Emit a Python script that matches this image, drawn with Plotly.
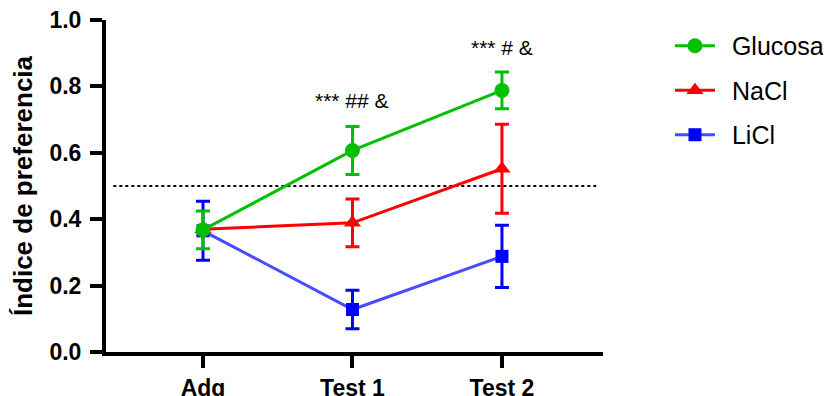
import plotly.graph_objects as go

categories = ["Adq", "Test 1", "Test 2"]

glucosa = [0.368, 0.607, 0.788]
glucosa_err = [0.057, 0.072, 0.055]
nacl = [0.370, 0.389, 0.552]
nacl_err = [0.0, 0.072, 0.134]
licl = [0.365, 0.128, 0.288]
licl_err = [0.089, 0.058, 0.094]

y_ticks = [0.0, 0.2, 0.4, 0.6, 0.8, 1.0]
y_ticktext = ["0.0", "0.2", "0.4", "0.6", "0.8", "1.0"]
reference_level = 0.5

annotations_text = ["*** ## &", "*** # &"]
annotations_x = ["Test 1", "Test 2"]
annotations_y = [0.759, 0.916]

FONT = "Liberation Sans, Arial, sans-serif"
PAD = "\u00a0\u2009"

series = [
    # name, values, errors, line color, marker color, symbol, size, rank
    ("LiCl", licl, licl_err, "#4a4aff", "#0000ff", "square", 13, 3),
    ("NaCl", nacl, nacl_err, "#ff0000", "#ff0000", "triangle-up", 15, 2),
    ("Glucosa", glucosa, glucosa_err, "#00c000", "#00c000", "circle", 15, 1),
]

fig = go.Figure()
for name, vals, errs, lcol, mcol, sym, size, rank in series:
    fig.add_trace(go.Scatter(
        x=categories, y=vals, name=PAD + name, mode="lines+markers",
        line=dict(color=lcol, width=3),
        marker=dict(color=mcol, symbol=sym, size=size, line=dict(width=0)),
        error_y=dict(type="data", array=errs, visible=True, color=mcol,
                     thickness=3, width=7),
        legendrank=rank, legendgroup=name,
    ))

fig.add_shape(type="line", xref="x", yref="y", x0=-0.60, x1=2.63,
              y0=reference_level, y1=reference_level,
              line=dict(color="black", width=2, dash="dot"), layer="below")

for t, xv, yv in zip(annotations_text, annotations_x, annotations_y):
    fig.add_annotation(x=xv, y=yv, text=t, showarrow=False,
                       font=dict(family=FONT, size=21, color="black"))

fig.update_layout(
    width=831, height=396,
    margin=dict(l=98, r=0, t=12, b=52),
    plot_bgcolor="white", paper_bgcolor="white",
    showlegend=True,
    legend=dict(x=0.7694, y=0.991, xanchor="left", yanchor="top",
                font=dict(family=FONT, size=25, color="black"),
                tracegroupgap=9, itemwidth=40, bgcolor="rgba(0,0,0,0)"),
    xaxis=dict(
        type="category", range=[-0.649, 2.676], automargin=False,
        domain=[0, 497 / 733],
        showline=True, linecolor="black", linewidth=4,
        ticks="outside", ticklen=12, tickwidth=4, tickcolor="black",
        tickfont=dict(family=FONT, size=23, color="black", weight="bold"),
        ticklabeloverflow="allow",
        showgrid=False, zeroline=False,
    ),
    yaxis=dict(
        range=[0, 1.0], tickvals=y_ticks, ticktext=y_ticktext, automargin=False,
        showline=True, linecolor="black", linewidth=4,
        ticks="outside", ticklen=12, tickwidth=4, tickcolor="black",
        tickfont=dict(family=FONT, size=23, color="black", weight="bold"),
        ticklabelstandoff=4, ticklabeloverflow="allow",
        showgrid=False, zeroline=False,
        title=dict(text="Índice de preferencia", standoff=22,
                   font=dict(family=FONT, size=26, color="black", weight="bold")),
    ),
)

fig.write_html("out.html")
